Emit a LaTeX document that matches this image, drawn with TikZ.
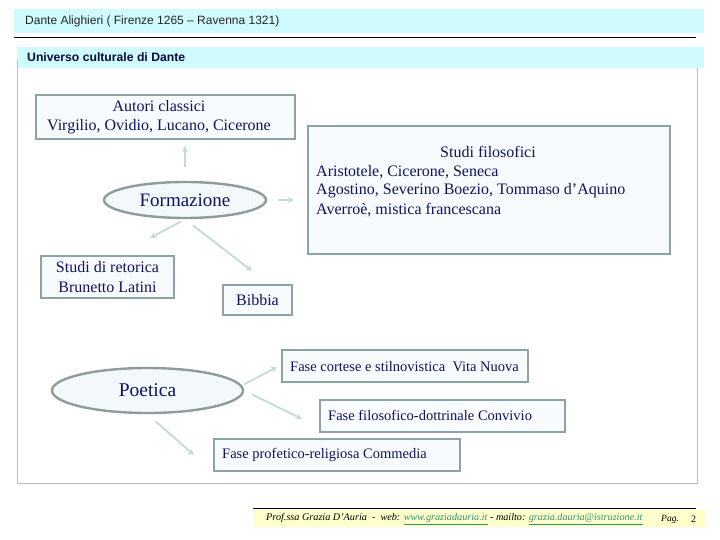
\documentclass[tikz,border=0pt]{standalone}
\usepackage{fontspec}
\setmainfont{Liberation Serif}
\newfontfamily\arialf{Liberation Sans}
\usetikzlibrary{shapes.geometric,arrows.meta,calc}
\definecolor{bandcyan}{HTML}{CFFBFF}
\definecolor{boxgray}{HTML}{8FA2A5}
\definecolor{boxfill}{HTML}{F7FBFD}
\definecolor{ellgray}{HTML}{8E9C9C}
\definecolor{ellfill}{HTML}{F3F9FA}
\definecolor{arrcol}{HTML}{C3D9DB}
\definecolor{navy}{HTML}{12125E}
\definecolor{darknavy}{HTML}{0A0A3A}
\definecolor{framegray}{HTML}{BDBDBD}
\definecolor{footyellow}{HTML}{FFFFCC}
\definecolor{linkcol}{HTML}{2E9478}
\newcommand{\weblink}[1]{\textcolor{linkcol}{\underline{#1}}}
\tikzset{
  box/.style={draw=boxgray, line width=2.4pt, fill=boxfill, text=navy, inner sep=0pt},
  ell/.style={ellipse, draw=ellgray, line width=2.4pt, fill=ellfill, text=navy, inner sep=0pt},
  arr/.style={draw=arrcol, line width=1.8pt, -{Stealth[length=6pt,width=6pt]}},
  btxt/.style={text=navy, inner sep=0pt, font=\fontsize{16}{19.5}\selectfont},
  ftxt/.style={text=navy, inner sep=0pt, font=\fontsize{14.5}{16}\selectfont},
}
\begin{document}
\begin{tikzpicture}[x=1pt,y=-1pt]
\useasboundingbox (0,0) rectangle (720,540);
\fill[white] (0,0) rectangle (720,540);
% header
\fill[bandcyan] (14,9) rectangle (704,33);
\node[anchor=west, inner sep=0pt, text=black!85, font=\arialf\fontsize{12}{14}\selectfont] (title) at (25,21) {Dante Alighieri ( Firenze 1265 – Ravenna 1321)};
\draw[black, line width=1pt] (14,38) -- (696,38);
\fill[bandcyan] (17,47) rectangle (704,68);
\draw[framegray, line width=0.8pt] (17,60) -- (17,483) -- (697,483) -- (697,68);
\node[anchor=west, inner sep=0pt, text=darknavy, font=\arialf\bfseries\fontsize{12.2}{14}\selectfont] (sub) at (27,57) {Universo culturale di Dante};
% Formazione group
\node[box, minimum width=259pt, minimum height=44pt] (aut) at (165.5,117) {};
\node[btxt, align=center] (autt) at (159,117) {Autori classici\\Virgilio, Ovidio, Lucano, Cicerone};
\node[box, minimum width=362pt, minimum height=128pt] (fil) at (489,190) {};
\node[btxt] (filt) at (488,152) {Studi filosofici};
\node[btxt, anchor=west] (fil1) at (316,172) {Aristotele, Cicerone, Seneca};
\node[btxt, anchor=west] (fil2) at (316,191) {Agostino, Severino Boezio, Tommaso d’Aquino};
\node[btxt, anchor=west] (fil3) at (316,210) {Averroè, mistica francescana};
\node[ell, minimum width=162pt, minimum height=36pt, font=\fontsize{19}{22}\selectfont] (form) at (185,200) {Formazione};
\node[box, minimum width=133pt, minimum height=42pt, align=center, font=\fontsize{16}{19.5}\selectfont] (ret) at (107.5,277) {Studi di retorica\\Brunetto Latini};
\node[box, minimum width=69pt, minimum height=30pt, font=\fontsize{16}{19.5}\selectfont] (bib) at (257.5,300) {Bibbia};
\coordinate (t3) at (150,238);
\coordinate (t4) at (252,271);
\draw[arr, shorten <=14pt, shorten >=6pt] (form) -- (form |- aut.south);
\draw[arr, shorten <=11pt, shorten >=13pt] (form.east) -- (form.east -| fil.west);
\draw[arr, shorten <=5pt] (form.south) -- (t3);
\draw[arr, shorten <=10pt] (form.south) -- (t4);
% Poetica group
\node[ell, minimum width=191pt, minimum height=45pt, font=\fontsize{19.5}{22}\selectfont] (poet) at (147.5,390.5) {Poetica};
\node[box, minimum width=246pt, minimum height=32pt] (f1) at (405,366) {};
\node[ftxt, anchor=west] (f1t) at (290,367) {Fase cortese e stilnovistica\ \ Vita Nuova};
\node[box, minimum width=245pt, minimum height=32pt] (f2) at (442.5,416) {};
\node[ftxt, anchor=west] (f2t) at (328,415) {Fase filosofico-dottrinale Convivio};
\node[box, minimum width=246pt, minimum height=32pt] (f3) at (337,455) {};
\node[ftxt, anchor=west] (f3t) at (222,455) {Fase profetico-religiosa Commedia};
\coordinate (t5) at (277,367);
\coordinate (t6) at (302,419);
\coordinate (t7) at (194,455);
\draw[arr, shorten <=2pt] (poet.3) -- (t5);
\draw[arr, shorten <=9pt] (poet.east) -- (t6);
\draw[arr, shorten <=11pt] (poet.south) -- (t7);
% footer
\draw[black, line width=1pt] (253,508) -- (696,508);
\fill[footyellow] (253,510) rectangle (706,527);
\node[anchor=west, inner sep=0pt, text=black, font=\itshape\fontsize{10.2}{12}\selectfont] (foot) at (266,519) {Prof.ssa Grazia D'Auria\ \ -\ \ web: \weblink{www.graziadauria.it} - mailto: \weblink{grazia.dauria@istruzione.it}};
\node[anchor=west, inner sep=0pt, text=black, font=\itshape\fontsize{9.5}{11}\selectfont] (pag) at (661,519) {Pag.};
\node[anchor=west, inner sep=0pt, text=black, font=\fontsize{10}{11}\selectfont] (pnum) at (691,519) {2};
\end{tikzpicture}
\end{document}
